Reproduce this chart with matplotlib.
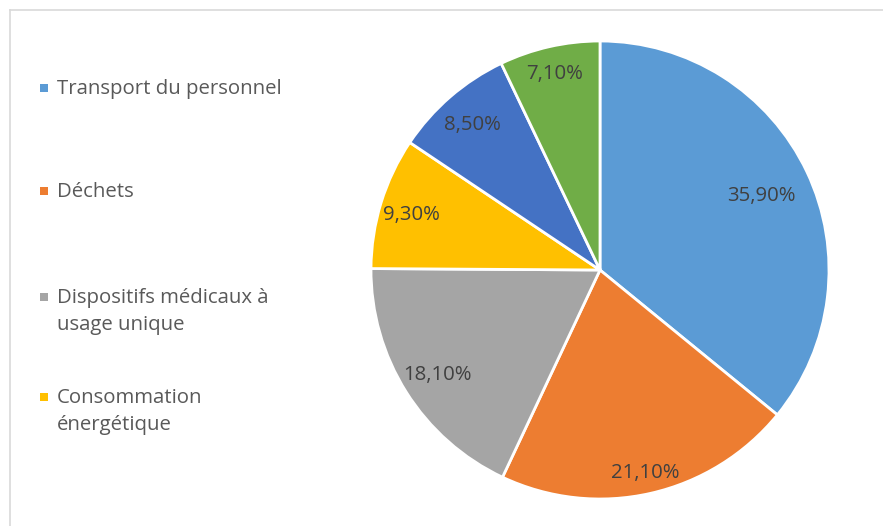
import numpy as np
import matplotlib.pyplot as plt
from matplotlib.lines import Line2D
from matplotlib.patches import Rectangle

# parts in percent, clockwise from 12 o'clock
values = [35.9, 21.1, 18.1, 9.3, 8.5, 7.1]
colors = ['#5B9BD5', '#ED7D31', '#A5A5A5', '#FFC000', '#4472C4', '#70AD47']
# only the first four legend entries are visible in the picture
legend_labels = ['Transport du personnel', 'Déchets',
                 'Dispositifs médicaux à\nusage unique', 'Consommation\nénergétique']

label_dist = [0.78, 0.90, 0.84, 0.86, 0.85, 0.89]

W, H = 883, 526
fig = plt.figure(figsize=(W / 100, H / 100), dpi=100)
plt.rcParams['font.family'] = ['Open Sans', 'DejaVu Sans']
fs = 14.7

# chart frame (only top and left edges visible)
fig.add_artist(Line2D([10 / W, 10 / W], [0, 1 - 10 / H], transform=fig.transFigure,
                      color='#D9D9D9', lw=1.2))
fig.add_artist(Line2D([10 / W, 1], [1 - 10 / H, 1 - 10 / H], transform=fig.transFigure,
                      color='#D9D9D9', lw=1.2))

cx, cy, r = 600, 270, 229
ax = fig.add_axes([(cx - r) / W, (H - cy - r) / H, 2 * r / W, 2 * r / H])
wedges, _ = ax.pie(values, colors=colors, startangle=90, counterclock=False,
                   wedgeprops=dict(edgecolor='white', linewidth=2))
ax.set_xlim(-1, 1)
ax.set_ylim(-1, 1)
ax.set_aspect('equal')
ax.axis('off')

for w, v, d in zip(wedges, values, label_dist):
    ang = np.deg2rad((w.theta1 + w.theta2) / 2)
    ax.text(d * np.cos(ang), d * np.sin(ang), f'{v:.2f}%'.replace('.', ','),
            ha='center', va='center_baseline', fontsize=fs, color='#404040')

# legend drawn by hand
leg_y = [88, 191, 297, 397]
for lab, c, y in zip(legend_labels, colors, leg_y):
    fig.add_artist(Rectangle((40 / W, (H - y - 4) / H), 8 / W, 8 / H,
                             transform=fig.transFigure, color=c, lw=0))
    for i, line in enumerate(lab.split('\n')):
        fig.text(57 / W, (H - y - 6 - 27 * i) / H, line, ha='left', va='baseline',
                 fontsize=fs, color='#595959')

fig.savefig('out.png', dpi=100)
